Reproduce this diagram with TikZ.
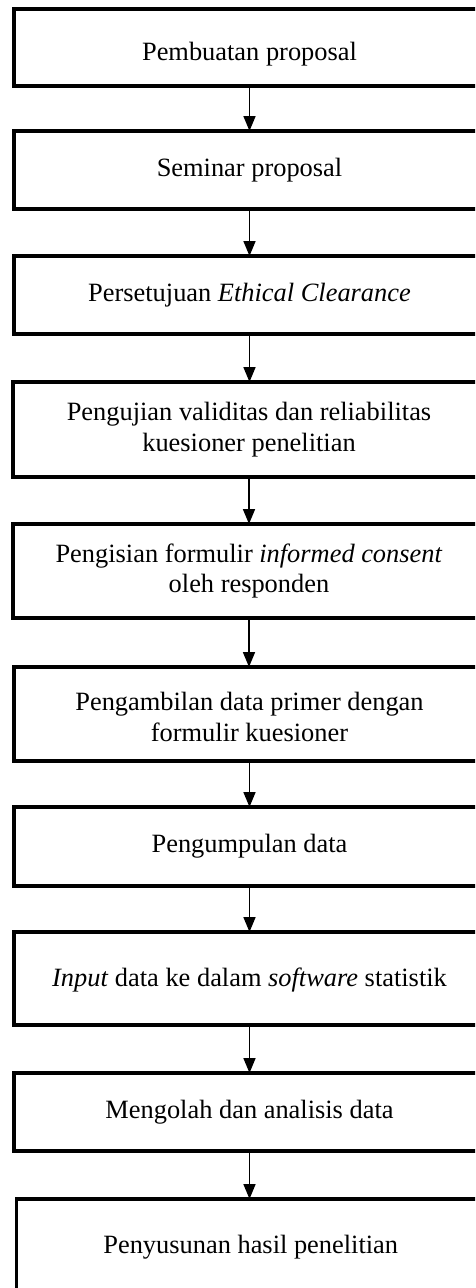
\documentclass[tikz,border=0pt]{standalone}
\usepackage{fontspec}
\setmainfont{Liberation Serif}
\usetikzlibrary{arrows.meta}
\tikzset{
  stepbox/.style={draw=black, line width=3.4pt, rectangle, align=center,
    font=\fontsize{26.4}{30.4}\selectfont, inner sep=0pt, outer sep=0pt},
  arr/.style={line width=1.7pt, -{Triangle[length=15pt,width=12pt]}},
}
\newcommand{\boxat}[5]{% name, left, top, bottom, text
  \node[stepbox, minimum width={485-#2}, minimum height={#4-#3}]
    (#1) at ({(#2+485)/2},{(#3+#4)/2}) {#5};}
\newcommand{\lowered}[2]{\raisebox{-#1}[\height][\depth]{#2}}
\begin{document}
\begin{tikzpicture}[x=1pt,y=-1pt]
\useasboundingbox (0,0) rectangle (475,1288);
\clip (0,0) rectangle (475,1288);
\fill[white] (0,0) rectangle (475,1288);
\boxat{b1}{14}{9}{86}{\lowered{7pt}{Pembuatan proposal}}
\boxat{b2}{14}{131}{209}{Seminar proposal}
\boxat{b3}{14}{256}{334}{Persetujuan \textit{Ethical Clearance}}
\boxat{b4}{13}{382}{477}{Pengujian validitas dan reliabilitas\\kuesioner penelitian}
\boxat{b5}{13}{524}{618}{Pengisian formulir \textit{informed consent}\\oleh responden}
\boxat{b6}{14}{667}{761}{\lowered{3pt}{Pengambilan data primer dengan}\\\lowered{3pt}{formulir kuesioner}}
\boxat{b7}{14}{807}{886}{Pengumpulan data}
\boxat{b8}{14}{932}{1025}{\lowered{2pt}{\textit{Input} data ke dalam \textit{software} statistik}}
\boxat{b9}{14}{1073}{1151}{Mengolah dan analisis data}
\boxat{b10}{16.5}{1199}{1296}{Penyusunan hasil penelitian}
\draw[arr] (b1.south) -- (b1.south |- b2.north);
\draw[arr] (b2.south) -- (b2.south |- b3.north);
\draw[arr] (b3.south) -- (b3.south |- b4.north);
\draw[arr] (b4.south) -- (b4.south |- b5.north);
\draw[arr] (b5.south) -- (b5.south |- b6.north);
\draw[arr] (b6.south) -- (b6.south |- b7.north);
\draw[arr] (b7.south) -- (b7.south |- b8.north);
\draw[arr] (b8.south) -- (b8.south |- b9.north);
\draw[arr] (b9.south) -- (b9.south |- b10.north);
\end{tikzpicture}
\end{document}
